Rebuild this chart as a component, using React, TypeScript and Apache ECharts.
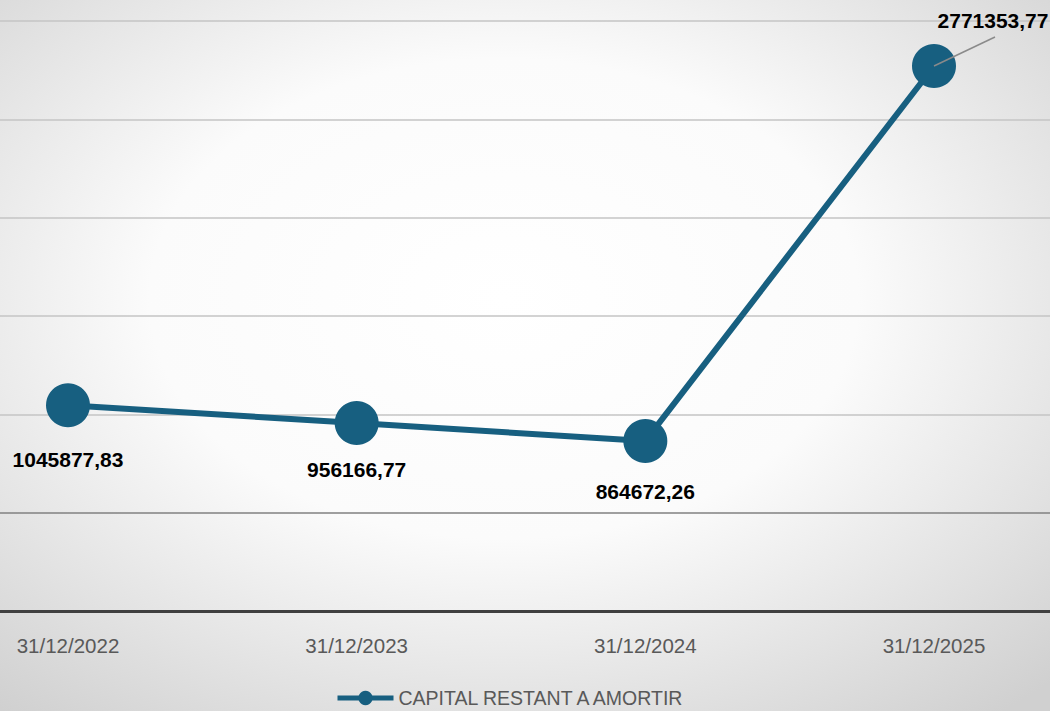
import React, { useEffect, useRef } from "react";
import * as echarts from "echarts";

const categories = ["31/12/2022", "31/12/2023", "31/12/2024", "31/12/2025"];
const capitalValues = [1045877.83, 956166.77, 864672.26, 2771353.77];
const seriesName = "CAPITAL RESTANT A AMORTIR";
const labelShiftY = [6, -2, 2];

export default function App() {
  const ref = useRef<HTMLDivElement>(null);
  useEffect(() => {
    document.body.style.margin = "0";
    const chart = echarts.init(ref.current!, null, { renderer: "svg" });
    const color = "#175f80";
    const font = "Liberation Sans Narrow, Arial Narrow, Liberation Sans, sans-serif";
    chart.setOption({
      animation: false,
      backgroundColor: {
        type: "radial",
        x: 0.48,
        y: 0.42,
        r: 0.75,
        colorStops: [
          { offset: 0, color: "#ffffff" },
          { offset: 0.45, color: "#fbfbfb" },
          { offset: 1, color: "#d0d0d0" },
        ],
      },
      grid: [
        { left: 0, right: 0, top: 21, bottom: 100, containLabel: false },
        { left: 68, right: 116, top: 21, bottom: 100, containLabel: false },
      ],
      legend: {
        top: 688,
        left: 335,
        padding: 0,
        itemWidth: 56,
        itemHeight: 18,
        lineStyle: { width: 5 },
        textStyle: { color: "#595959", fontSize: 19.5, fontFamily: font },
        data: [seriesName],
      },
      xAxis: [
        {
          type: "category",
          gridIndex: 0,
          data: categories,
          axisLine: { lineStyle: { color: "#404040", width: 3 } },
          axisTick: { show: false },
          axisLabel: { show: false },
        },
        {
          type: "category",
          gridIndex: 1,
          data: categories,
          boundaryGap: false,
          axisLine: { show: false },
          axisTick: { show: false },
          axisLabel: { color: "#595959", fontSize: 20.5, margin: 24, fontFamily: font },
        },
      ],
      yAxis: [
        {
          type: "value",
          gridIndex: 0,
          min: 0,
          max: 3000000,
          interval: 500000,
          axisLabel: { show: false },
          axisLine: { show: false },
          axisTick: { show: false },
          splitLine: {
            lineStyle: {
              color: ["#bcbcbc", "#808080", "#c4c4c4", "#c4c4c4", "#c4c4c4", "#c4c4c4", "#c4c4c4"],
              width: 1.5,
            },
          },
        },
        {
          type: "value",
          gridIndex: 1,
          min: 0,
          max: 3000000,
          interval: 500000,
          axisLabel: { show: false },
          axisLine: { show: false },
          axisTick: { show: false },
          splitLine: { show: false },
        },
      ],
      series: [
        {
          name: seriesName,
          type: "line",
          xAxisIndex: 1,
          yAxisIndex: 1,
          data: capitalValues.map((v, i) => ({
            value: v,
            label: { position: i < 3 ? "bottom" : "right", distance: 16 },
          })),
          symbol: "circle",
          symbolSize: 44,
          itemStyle: { color },
          lineStyle: { color, width: 6 },
          label: {
            show: true,
            color: "#000000",
            fontSize: 21,
            fontWeight: "bold",
            fontFamily: font,
            formatter: (p: any) => p.value.toFixed(2).replace(".", ","),
          },
          labelLayout: (params: any) =>
            params.dataIndex === 3
              ? { x: 993, y: 20, align: "center", verticalAlign: "middle" }
              : { dy: labelShiftY[params.dataIndex] },
          markLine: {
            silent: true,
            symbol: "none",
            label: { show: false },
            lineStyle: { color: "#8a8a8a", width: 1.5, type: "solid" },
            data: [
              [
                { coord: [categories[3], capitalValues[3]] },
                { x: 995, y: 37 },
              ],
            ],
          },
        },
      ],
    });
    return () => chart.dispose();
  }, []);
  return <div ref={ref} style={{ width: 1050, height: 711 }} />;
}
